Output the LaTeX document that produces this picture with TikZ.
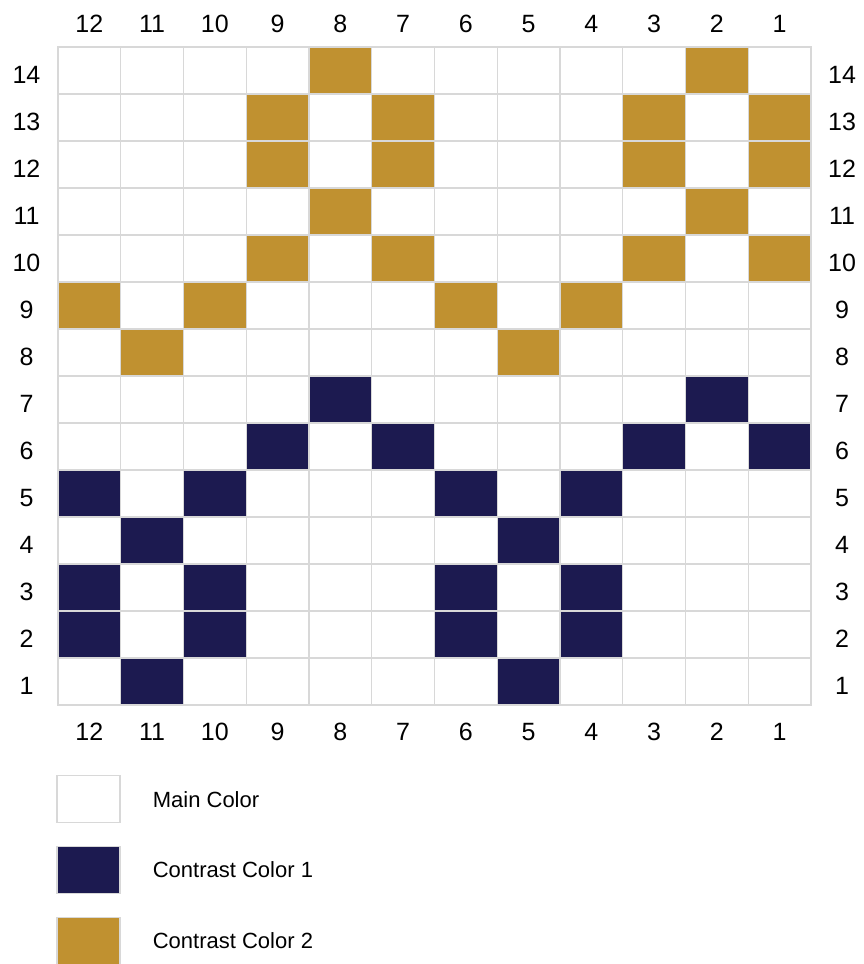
\documentclass[tikz,border=0pt]{standalone}
\usepackage{fontspec}
\setmainfont{Liberation Sans}
\usetikzlibrary{positioning}
\definecolor{navy}{HTML}{1C1A50}
\definecolor{gold}{HTML}{C09130}
\definecolor{gridgray}{HTML}{D8D8D8}
\tikzset{cell/.style={draw=gridgray,line width=1.3pt}, num/.style={font=\fontsize{25}{25}\selectfont,inner sep=0pt,anchor=base}, swatch/.style={draw=gridgray,line width=1.3pt,minimum width=63pt,minimum height=47pt,inner sep=0pt}, key/.style={font=\fontsize{22}{22}\selectfont,inner sep=0pt,anchor=base west}}

\begin{document}
\begin{tikzpicture}[x=1pt,y=-1pt]
\useasboundingbox (0,0) rectangle (863,964);
% contrast colour 2 stitches
\foreach \c/\r in {4/14,10/14,3/13,5/13,9/13,11/13,3/12,5/12,9/12,11/12,4/11,10/11,3/10,5/10,9/10,11/10,0/9,2/9,6/9,8/9,1/8,7/8}
  \fill[gold] ({58+\c*62.75},{705-\r*47}) rectangle ++(62.75,47);
% contrast colour 1 stitches
\foreach \c/\r in {4/7,10/7,3/6,5/6,9/6,11/6,0/5,2/5,6/5,8/5,1/4,7/4,0/3,2/3,6/3,8/3,0/2,2/2,6/2,8/2,1/1,7/1}
  \fill[navy] ({58+\c*62.75},{705-\r*47}) rectangle ++(62.75,47);
% grid
\foreach \c in {0,...,11}
  \foreach \r in {1,...,14}
    \draw[cell] ({58+\c*62.75},{705-\r*47}) rectangle ++(62.75,47);
% stitch and row numbers
\foreach \c [evaluate=\c as \n using int(12-\c)] in {0,...,11} {
  \node[num] (top\n) at ({58+(\c+0.5)*62.75},32) {\n};
  \node[num] (bot\n) at ({58+(\c+0.5)*62.75},740.5) {\n};
}
\foreach \r in {1,...,14} {
  \node[num] (left\r) at (26.5,{705-(\r-0.5)*47+13}) {\r};
  \node[num] (right\r) at (842,{705-(\r-0.5)*47+13}) {\r};
}
% key
\node[swatch,fill=white] (mc) at (88.5,799) {};
\node[swatch,fill=navy] (cc1) at (88.5,870) {};
\node[swatch,fill=gold] (cc2) at (88.5,941) {};
\node[key] (mclabel) at ([xshift=32pt]mc.east|-0,807) {Main Color};
\node[key] (cc1label) at ([xshift=32pt]cc1.east|-0,877) {Contrast Color 1};
\node[key] (cc2label) at ([xshift=32pt]cc2.east|-0,948) {Contrast Color 2};
\end{tikzpicture}
\end{document}
